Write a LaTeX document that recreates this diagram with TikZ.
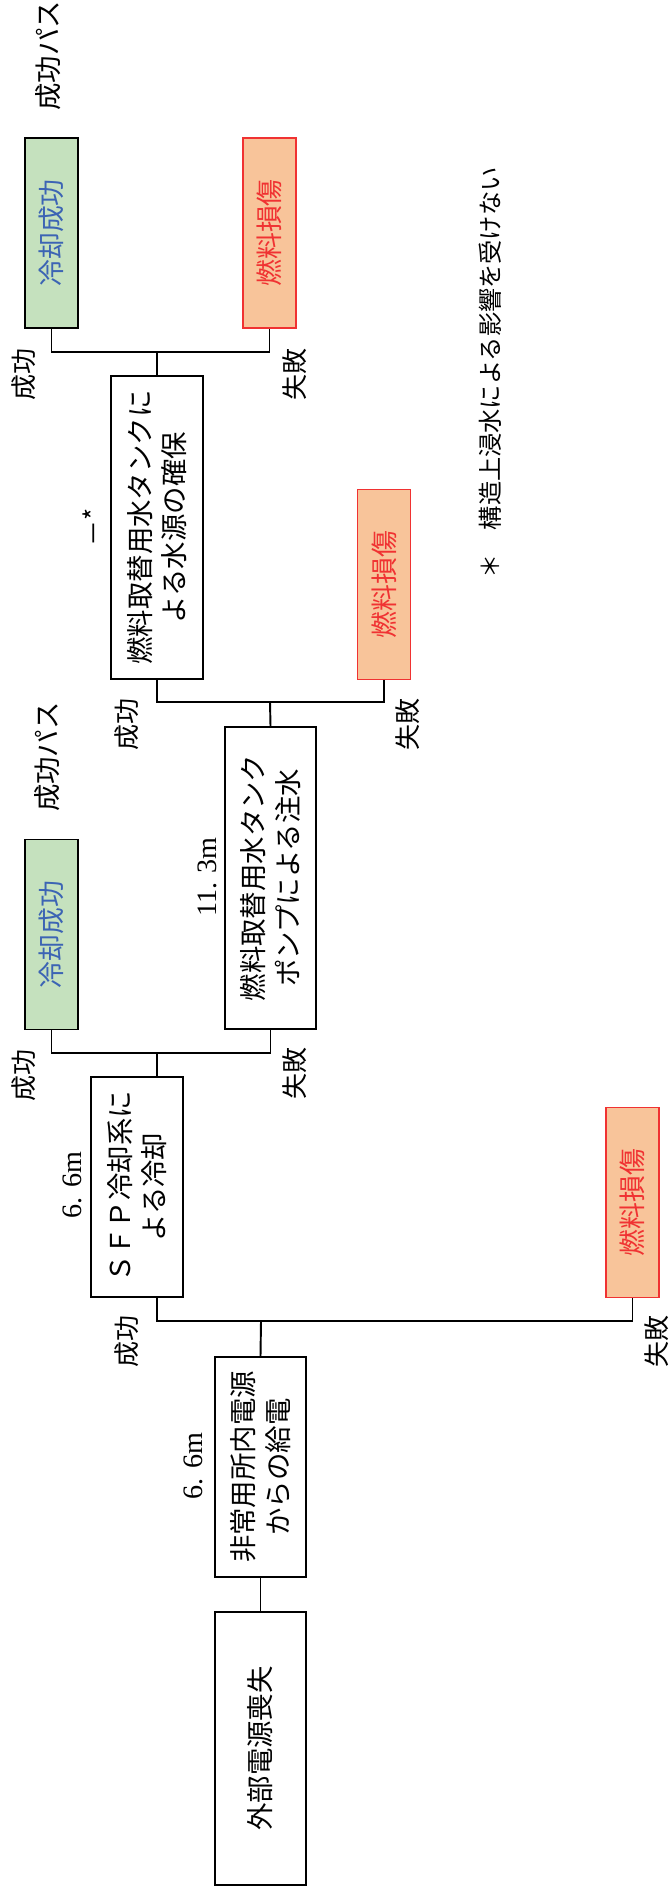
\documentclass[tikz,border=0pt]{standalone}
\usepackage{fontspec}
\setmainfont{Liberation Serif}
\newfontfamily\cjk{Noto Sans CJK JP}
\definecolor{okfill}{RGB}{197,225,190}
\definecolor{okblue}{RGB}{60,100,180}
\definecolor{fdfill}{RGB}{248,196,154}
\definecolor{fdred}{RGB}{240,50,50}
\tikzset{
  event/.style={draw, line width=1.1pt, rotate=90, inner sep=0pt, align=center,
    minimum height=1.83cm, font=\cjk\fontsize{15.6}{19.5}\selectfont},
  endok/.style={draw, line width=1.1pt, fill=okfill, text=okblue, rotate=90, inner sep=0pt,
    minimum width=3.8cm, minimum height=1.06cm, font=\cjk\fontsize{15.3}{18}\selectfont},
  endfd/.style={endok, draw=fdred, fill=fdfill, text=fdred},
  lbl/.style={rotate=90, inner sep=0pt, font=\cjk\fontsize{14.8}{18}\selectfont},
  hgt/.style={rotate=90, inner sep=0pt, font=\fontsize{16}{18}\selectfont},
  branch/.style={line width=1.1pt}
}
\begin{document}
\begin{tikzpicture}[x=0.02cm, y=-0.02cm]
  \useasboundingbox (0,0) rectangle (669,1888);

  % Headings (read bottom to top)
  \node[event, minimum width=5.46cm] (loop) at (260.5,1748.5) {外部電源喪失};
  \node[event, minimum width=4.4cm] (epow) at (260.5,1467) {非常用所内電源\\からの給電};
  \node[event, minimum width=4.4cm] (sfp) at (137,1187) {ＳＦＰ冷却系に\\よる冷却};
  \node[event, minimum width=6.04cm] (pump) at (270.5,878) {燃料取替用水タンク\\ポンプによる注水};
  \node[event, minimum width=6.06cm] (tank) at (157,527.5) {燃料取替用水タンクに\\よる水源の確保};

  % End states
  \node[endok] (ok1) at (51.5,233) {冷却成功};
  \node[endfd] (fd1) at (269.5,233) {燃料損傷};
  \node[endfd] (fd2) at (384,584.5) {燃料損傷};
  \node[endok] (ok2) at (51.5,934.5) {冷却成功};
  \node[endfd] (fd3) at (632.5,1202.5) {燃料損傷};

  % Branch points
  \coordinate (b1) at (157,352);
  \coordinate (b2) at (270,702);
  \coordinate (b3) at (157,1053);
  \coordinate (b4) at (261,1321);

  % Tree
  \draw[branch] (loop.east) -- (epow.west);
  \draw[branch] (epow.east) -- (b4);
  \draw[branch] ([xshift=0.4cm]sfp.west) |- (b4) -| (fd3.west);
  \draw[branch] ([xshift=0.4cm]sfp.east) -- (b3);
  \draw[branch] (ok2.west) |- (b3) -| (pump.west);
  \draw[branch] (pump.east) -- (b2);
  \draw[branch] (tank.west) |- (b2) -| (fd2.west);
  \draw[branch] (tank.east) -- (b1);
  \draw[branch] (ok1.west) |- (b1) -| (fd1.west);

  % Success / failure labels
  \node[lbl, anchor=east] (s1) at (24,348) {成功};
  \node[lbl, anchor=east] (f1) at (295,348) {失敗};
  \node[lbl, anchor=east] (s2) at (127,698) {成功};
  \node[lbl, anchor=east] (f2) at (408,698) {失敗};
  \node[lbl, anchor=east] (s3) at (24,1049) {成功};
  \node[lbl, anchor=east] (f3) at (295,1047) {失敗};
  \node[lbl, anchor=east] (s4) at (127,1315) {成功};
  \node[lbl, anchor=east] (f4) at (657,1315) {失敗};

  % Success paths
  \node[lbl, font=\cjk\fontsize{15.6}{18}\selectfont] (path1) at (48,56) {成功パス};
  \node[lbl, font=\cjk\fontsize{15.6}{18}\selectfont] (path2) at (47,757) {成功パス};

  % Levels
  \node[hgt] (h1) at (193,1466) {6. 6m};
  \node[hgt] (h2) at (72,1185) {6. 6m};
  \node[hgt] (h3) at (207,877) {11. 3m};
  \node[lbl] (h4) at (93,527) {－*};

  % Note
  \node[lbl, font=\cjk\fontsize{13.8}{16}\selectfont] (note) at (490,373) {＊　構造上浸水による影響を受けない};
\end{tikzpicture}
\end{document}
